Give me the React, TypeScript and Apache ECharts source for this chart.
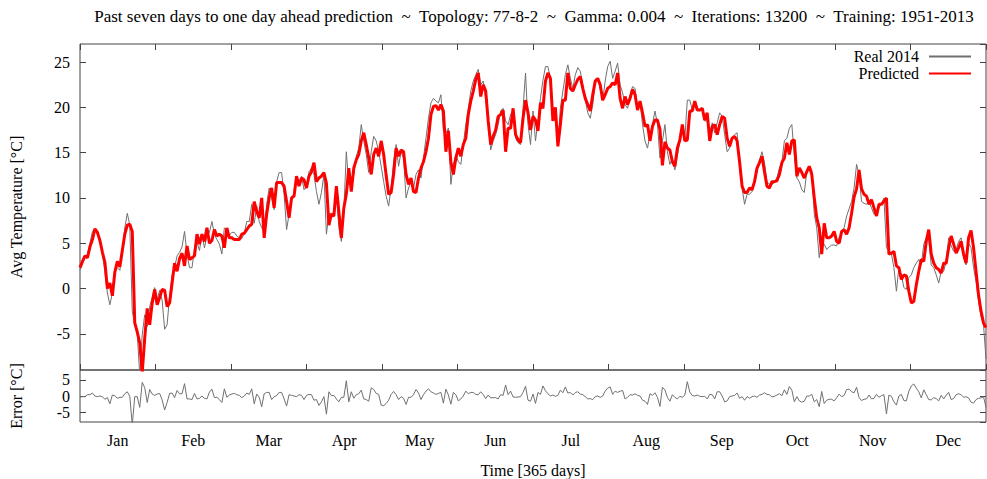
import React, { useEffect, useRef } from "react";
import * as echarts from "echarts";

// Daily average temperature 2014 (°C), day index 0..364
const REAL_2014: number[] = [
  2.0, 2.8, 3.4, 3.8, 5.0, 6.3, 6.6, 6.0, 5.3, 3.8,
  1.9, -0.5, -1.8, -0.5, 1.9, 2.3, 2.0, 3.8, 6.7, 8.3,
  7.0, -2.5, -4.0, -5.0, -9.5, -5.1, -2.9, -4.2, -2.0, -1.0,
  0.1, -1.2, -0.2, -1.3, -4.5, -4.0, -0.8, 1.5, 2.3, 3.6,
  4.0, 4.6, 6.3, 3.8, 2.3, 2.3, 4.4, 5.1, 4.2, 6.0,
  4.5, 5.8, 6.2, 7.4, 6.0, 5.4, 4.9, 3.8, 6.7, 6.3,
  5.9, 6.2, 6.2, 5.8, 5.6, 5.5, 6.1, 7.4, 7.4, 9.3,
  7.2, 9.1, 7.4, 6.7, 6.3, 9.3, 11.1, 10.0, 8.7, 11.8,
  12.8, 12.8, 10.4, 6.5, 8.2, 10.2, 10.2, 12.2, 11.7, 12.4,
  10.9, 11.3, 12.9, 13.3, 12.6, 10.7, 9.3, 10.6, 12.6, 6.0,
  8.3, 8.3, 8.2, 10.4, 6.7, 5.2, 8.5, 15.1, 11.5, 12.0,
  12.6, 14.6, 15.5, 18.1, 16.3, 14.8, 12.8, 15.1, 16.8, 16.3,
  15.1, 13.5, 11.8, 10.2, 9.1, 11.1, 14.0, 15.9, 13.5, 15.1,
  14.4, 10.0, 11.1, 11.8, 11.1, 12.6, 13.1, 12.2, 14.4, 16.6,
  18.8, 20.5, 21.0, 20.7, 20.5, 21.4, 17.4, 17.2, 17.7, 11.5,
  13.7, 14.8, 14.0, 13.7, 15.9, 18.1, 19.9, 21.8, 22.9, 23.6,
  24.2, 22.5, 22.9, 21.0, 18.8, 15.3, 16.3, 17.0, 18.1, 19.6,
  19.9, 18.5, 18.1, 19.2, 19.6, 16.6, 16.1, 15.9, 19.9, 23.8,
  18.1, 15.9, 19.6, 16.3, 18.5, 21.0, 23.0, 24.5, 24.5, 23.2,
  18.8, 19.9, 15.9, 19.9, 21.8, 23.6, 24.7, 23.2, 22.1, 23.6,
  24.4, 24.0, 22.5, 20.8, 19.4, 18.8, 20.3, 22.7, 23.2, 22.1,
  20.8, 22.9, 24.5, 25.1, 23.2, 24.0, 24.9, 22.5, 21.6, 20.3,
  19.9, 21.4, 22.3, 22.1, 19.9, 20.7, 18.1, 16.3, 15.5, 17.0,
  18.1, 19.6, 18.2, 14.4, 16.3, 18.1, 15.1, 13.7, 14.4, 13.1,
  14.6, 16.3, 17.7, 16.6, 20.8, 20.8, 19.7, 20.7, 20.0, 19.6,
  19.7, 18.5, 18.5, 16.8, 18.3, 17.2, 18.3, 19.4, 19.0, 17.0,
  15.1, 15.5, 16.6, 17.0, 17.2, 13.3, 11.1, 9.3, 10.4, 10.4,
  10.7, 11.8, 12.9, 14.2, 15.1, 13.9, 11.8, 11.5, 11.5, 11.7,
  12.2, 13.3, 14.0, 16.3, 16.6, 17.7, 18.1, 14.6, 12.2, 11.8,
  10.9, 10.6, 12.9, 13.5, 13.1, 8.2, 6.7, 3.4, 5.2, 4.9,
  4.3, 4.6, 4.8, 4.8, 4.7, 5.6, 6.1, 6.7, 8.0, 8.8,
  9.6, 11.1, 13.7, 12.6, 9.6, 9.4, 9.3, 9.6, 8.9, 8.2,
  8.5, 8.9, 9.4, 10.0, 4.5, 4.1, 3.8, 2.3, -0.3, 2.3,
  1.5, 0.1, -0.1, 1.2, 1.5, 2.3, 2.8, 3.2, 2.6, 4.9,
  5.6, 5.4, 2.6, 2.3, 1.5, 0.6, 1.9, 1.9, 3.0, 5.6,
  4.7, 4.1, 4.3, 5.2, 5.6, 3.4, 2.6, 5.0, 4.5, 2.3,
  0.8, -1.4, -3.1, -4.0, -7.8,
];

// One-day-ahead prediction (°C), day index 0..364
const PREDICTED: number[] = [
  2.3, 3.0, 3.6, 3.4, 4.6, 5.4, 6.6, 6.2, 5.3, 4.0,
  2.9, 0.0, 0.6, -0.8, 1.8, 3.0, 2.4, 4.2, 6.0, 7.0,
  7.1, 6.3, -3.8, -4.8, -6.0, -9.3, -5.5, -2.2, -4.0, -1.6,
  -0.1, -1.8, -1.0, -0.1, -0.2, -2.0, -1.6, 0.6, 2.8, 1.9,
  3.3, 3.9, 2.5, 4.7, 3.2, 3.4, 3.6, 6.0, 4.9, 6.0,
  5.2, 6.7, 5.0, 5.3, 6.5, 5.8, 6.0, 5.8, 4.5, 6.7,
  5.6, 5.6, 5.4, 5.4, 5.4, 6.0, 6.1, 6.5, 6.9, 7.1,
  9.6, 8.5, 7.8, 10.0, 5.6, 8.2, 10.0, 11.1, 8.9, 11.7,
  11.7, 11.7, 11.3, 9.6, 7.8, 10.0, 10.2, 12.4, 11.3, 12.2,
  12.0, 11.1, 12.4, 12.9, 13.9, 11.8, 12.2, 12.4, 12.8, 11.6,
  7.0, 8.2, 8.0, 11.3, 8.5, 5.6, 8.9, 10.4, 13.3, 10.7,
  13.3, 14.2, 14.8, 16.3, 17.2, 15.9, 14.4, 12.6, 14.8, 15.5,
  14.6, 16.3, 14.8, 12.5, 10.4, 10.6, 12.6, 15.5, 14.6, 15.3,
  15.1, 12.6, 11.5, 12.2, 10.7, 10.6, 12.2, 13.3, 14.0, 15.1,
  16.6, 19.2, 20.1, 20.2, 19.7, 20.3, 19.6, 15.1, 17.4, 14.0,
  12.6, 14.4, 15.5, 14.6, 15.9, 16.6, 19.2, 20.7, 21.8, 23.1,
  23.8, 21.2, 22.5, 21.8, 18.5, 15.9, 16.8, 17.5, 19.0, 19.2,
  19.7, 15.1, 17.7, 17.7, 19.9, 17.0, 16.4, 16.1, 18.8, 20.8,
  19.4, 17.5, 19.0, 18.6, 17.4, 20.5, 19.9, 22.9, 23.8, 23.2,
  18.5, 20.0, 15.7, 18.1, 20.8, 20.8, 23.8, 22.1, 21.8, 22.5,
  23.1, 23.4, 22.1, 21.0, 20.3, 19.6, 21.4, 22.9, 23.2, 22.5,
  20.8, 21.4, 22.1, 22.3, 22.7, 22.5, 23.8, 21.0, 19.9, 21.2,
  20.3, 21.0, 22.0, 21.4, 19.7, 20.7, 19.4, 17.9, 18.1, 16.3,
  17.9, 18.6, 18.6, 17.6, 13.6, 16.2, 15.5, 15.3, 14.0, 13.5,
  15.5, 16.4, 18.1, 16.3, 16.4, 19.6, 19.6, 20.7, 19.7, 19.7,
  19.9, 18.6, 19.4, 16.3, 17.9, 18.1, 17.0, 18.1, 19.0, 18.8,
  16.6, 15.7, 16.6, 16.8, 16.3, 14.0, 11.3, 10.6, 10.6, 11.1,
  10.9, 11.8, 13.3, 13.9, 14.6, 12.9, 11.3, 11.1, 11.8, 11.8,
  11.9, 12.6, 13.9, 14.4, 16.1, 14.8, 16.3, 16.4, 12.4, 13.3,
  12.8, 12.2, 12.9, 13.5, 12.6, 10.0, 7.8, 6.7, 3.8, 7.2,
  5.6, 5.6, 5.8, 6.3, 5.2, 5.0, 6.3, 6.5, 6.0, 6.7,
  8.3, 10.1, 11.0, 13.1, 11.0, 10.4, 10.2, 9.3, 9.8, 8.9,
  8.0, 9.3, 9.3, 9.6, 10.0, 3.8, 3.9, 4.1, 2.5, 2.3,
  1.0, 1.5, 1.4, -0.3, -1.6, -1.4, 0.4, 1.9, 3.2, 3.0,
  5.2, 6.5, 3.8, 2.8, 2.3, 2.1, 1.7, 2.8, 2.8, 4.5,
  5.8, 4.9, 3.9, 4.5, 5.2, 3.8, 2.8, 5.6, 6.4, 4.5,
  1.9, -0.7, -2.5, -3.8, -4.3,
];

const MONTHS: string[] = ["Jan", "Feb", "Mar", "Apr", "May", "Jun", "Jul", "Aug", "Sep", "Oct", "Nov", "Dec"];

const TITLE =
  "Past seven days to one day ahead prediction  ~  Topology: 77-8-2  ~  Gamma: 0.004  ~  Iterations: 13200  ~  Training: 1951-2013";

const FONT = "'Liberation Serif', 'Times New Roman', serif";
const FRAME = "#444444";
const GRAY = "#707070";
const RED = "#ff0000";

const DAY_MAX = 364;
const MONTH_STEP = DAY_MAX / 12;
const HALF_STEP = DAY_MAX / 24;

export default function App() {
  const ref = useRef<HTMLDivElement | null>(null);

  useEffect(() => {
    if (!ref.current) return;
    const chart = echarts.init(ref.current, null, { renderer: "svg" });

    const realData = REAL_2014.map((v, i) => [i, v]);
    const predData = PREDICTED.map((v, i) => [i, v]);
    const errData = REAL_2014.map((v, i) => [i, Math.round((v - PREDICTED[i]) * 100) / 100]);

    const tickAxis = (gridIndex: number, position: string) => ({
      type: "value",
      gridIndex,
      position,
      min: 0,
      max: DAY_MAX,
      interval: MONTH_STEP,
      axisLine: { show: false, onZero: false },
      axisTick: { show: true, inside: true, length: 6, lineStyle: { color: FRAME, width: 1 } },
      axisLabel: { show: false },
      splitLine: { show: false },
    });

    const yBase = {
      type: "value",
      axisLine: { show: false, onZero: false },
      splitLine: { show: false },
      axisTick: { show: true, inside: true, length: 6, lineStyle: { color: FRAME, width: 1 } },
    };

    const labelStyle = { fontFamily: FONT, fontSize: 16, color: "#000000" };

    const option: any = {
      animation: false,
      backgroundColor: "#ffffff",
      textStyle: { fontFamily: FONT },
      graphic: [
        {
          type: "text",
          x: 534,
          y: 16,
          style: {
            text: TITLE,
            align: "center",
            verticalAlign: "middle",
            fontFamily: FONT,
            fontSize: 17,
            fill: "#000000",
          },
        },
      ],
      grid: [
        { left: 74, right: 1, top: 44, height: 326, show: true, borderColor: FRAME, borderWidth: 1, backgroundColor: "transparent", containLabel: false },
        { left: 74, right: 1, top: 370, height: 54, show: true, borderColor: FRAME, borderWidth: 1, backgroundColor: "transparent", containLabel: false },
      ],
      legend: {
        data: ["Real 2014", "Predicted"],
        orient: "vertical",
        right: 15,
        top: 48,
        padding: 0,
        align: "right",
        itemWidth: 42,
        itemHeight: 12,
        itemGap: 0,
        itemStyle: { opacity: 0 },
        textStyle: { fontFamily: FONT, fontSize: 16, color: "#000000", lineHeight: 17, padding: [0, 5, 0, 0] },
        selectedMode: false,
      },
      xAxis: [
        tickAxis(0, "bottom"),
        tickAxis(0, "top"),
        {
          type: "value",
          gridIndex: 1,
          position: "bottom",
          min: 0,
          max: DAY_MAX,
          interval: HALF_STEP,
          axisLine: { show: false, onZero: false },
          axisTick: { show: false },
          splitLine: { show: false },
          axisLabel: {
            show: true,
            margin: 10,
            ...labelStyle,
            showMinLabel: false,
            showMaxLabel: false,
            formatter: (v: number) => {
              const k = Math.round(v / HALF_STEP);
              return k % 2 === 1 ? MONTHS[(k - 1) / 2] : "";
            },
          },
          name: "Time [365 days]",
          nameLocation: "middle",
          nameGap: 40,
          nameTextStyle: labelStyle,
        },
      ],
      yAxis: [
        {
          ...yBase,
          gridIndex: 0,
          position: "left",
          min: -9,
          max: 27,
          splitNumber: 7,
          axisLabel: { show: true, margin: 10, ...labelStyle, showMinLabel: false, showMaxLabel: false },
          name: "Avg Temperature [°C]",
          nameLocation: "middle",
          nameGap: 56,
          nameTextStyle: labelStyle,
        },
        {
          ...yBase,
          gridIndex: 0,
          position: "right",
          min: -9,
          max: 27,
          splitNumber: 7,
          axisLabel: { show: false },
        },
        {
          ...yBase,
          gridIndex: 1,
          position: "left",
          min: -8,
          max: 8,
          splitNumber: 3,
          axisLabel: { show: true, margin: 10, ...labelStyle, showMinLabel: false, showMaxLabel: false },
          name: "Error [°C]",
          nameLocation: "middle",
          nameGap: 56,
          nameTextStyle: labelStyle,
        },
        {
          ...yBase,
          gridIndex: 1,
          position: "right",
          min: -8,
          max: 8,
          splitNumber: 3,
          axisLabel: { show: false },
        },
      ],
      series: [
        {
          name: "Real 2014",
          type: "line",
          xAxisIndex: 0,
          yAxisIndex: 0,
          data: realData,
          symbol: "none",
          lineStyle: { color: GRAY, width: 1 },
          itemStyle: { color: GRAY },
          z: 2,
        },
        {
          name: "Predicted",
          type: "line",
          xAxisIndex: 0,
          yAxisIndex: 0,
          data: predData,
          symbol: "none",
          lineStyle: { color: RED, width: 3 },
          itemStyle: { color: RED },
          z: 3,
        },
        {
          name: "Error",
          type: "line",
          xAxisIndex: 2,
          yAxisIndex: 2,
          data: errData,
          symbol: "none",
          lineStyle: { color: GRAY, width: 1 },
          itemStyle: { color: GRAY },
          z: 2,
        },
      ],
    };

    chart.setOption(option);
    return () => {
      chart.dispose();
    };
  }, []);

  return (
    <div
      ref={ref}
      style={{ position: "fixed", left: 0, top: 0, width: 987, height: 479, background: "#ffffff" }}
    />
  );
}
